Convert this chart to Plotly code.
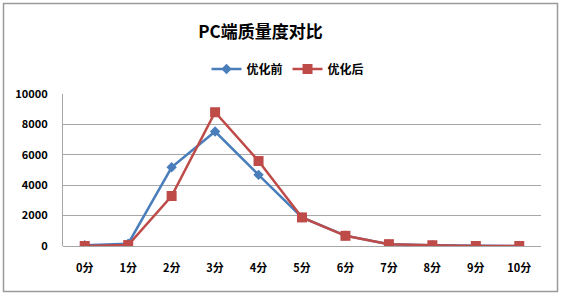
import plotly.graph_objects as go

categories = ["0分", "1分", "2分", "3分", "4分", "5分", "6分", "7分", "8分", "9分", "10分"]
before = [50, 150, 5180, 7530, 4680, 1880, 680, 120, 50, 10, 0]
after = [0, 60, 3290, 8800, 5590, 1880, 670, 120, 50, 0, 0]
y_ticks = [0, 2000, 4000, 6000, 8000, 10000]

FONT = "Noto Sans CJK SC"

fig = go.Figure()
fig.add_trace(go.Scatter(
    x=categories, y=before, name="<b>优化前</b>", mode="lines+markers",
    line=dict(color="#4a7ebb", width=2.5),
    marker=dict(symbol="diamond", size=8, color="#4a7ebb"),
))
fig.add_trace(go.Scatter(
    x=categories, y=after, name="<b>优化后</b>", mode="lines+markers",
    line=dict(color="#be4b48", width=2.5),
    marker=dict(symbol="square", size=10, color="#be4b48"),
))

W, H = 561, 295
L, R, T, B = 63, 20, 94, 49
pw, ph = W - L - R, H - T - B

def px2paper_x(px):
    return (px - L) / pw

def px2paper_y(py):
    return (H - B - py) / ph

fig.update_layout(
    width=W, height=H,
    margin=dict(l=L, r=R, t=T, b=B),
    paper_bgcolor="white", plot_bgcolor="white",
    font=dict(family=FONT, color="black"),
    title=dict(text="<b>PC端质量度对比</b>", x=260.5 / W, xanchor="center",
               y=1 - 32 / H, yanchor="middle",
               font=dict(size=17, family=FONT, color="black")),
    legend=dict(orientation="h", x=px2paper_x(288), xanchor="center",
                y=px2paper_y(69), yanchor="middle",
                font=dict(size=12, family=FONT, color="black"),
                itemwidth=30, bgcolor="rgba(0,0,0,0)"),
    showlegend=True,
    xaxis=dict(type="category", range=[-0.5, 10.5], showgrid=False,
               showline=False, ticks="", zeroline=False,
               tickfont=dict(size=11, family=FONT, color="black", weight="bold"),
               fixedrange=True),
    yaxis=dict(range=[0, 10000], tickvals=y_ticks,
               ticktext=[f"<b>{v}</b>" for v in y_ticks],
               showgrid=True, gridcolor="#a6a6a6", gridwidth=1,
               showline=True, linecolor="#a6a6a6", linewidth=1,
               zeroline=True, zerolinecolor="#a6a6a6", zerolinewidth=1,
               ticks="", ticklabelstandoff=12,
               tickfont=dict(size=11, family=FONT, color="black")),
    shapes=[dict(type="rect", xref="paper", yref="paper",
                 x0=px2paper_x(3.5), x1=px2paper_x(557.5),
                 y0=px2paper_y(291.5), y1=px2paper_y(3.5),
                 line=dict(color="#9a9a9a", width=1.5), layer="below")],
)
fig.update_xaxes(ticklabelstandoff=14)

fig.write_html("out.html")
